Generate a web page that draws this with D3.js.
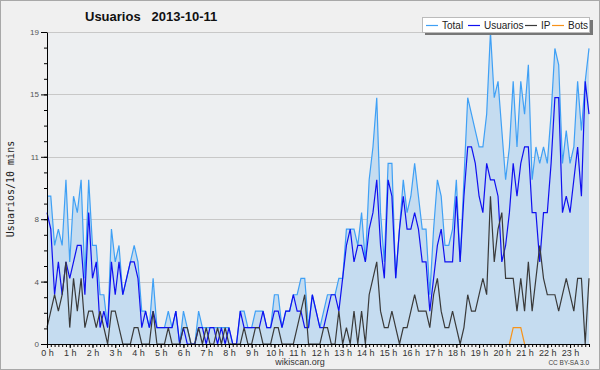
<!DOCTYPE html>
<html>
<head>
<meta charset="utf-8">
<script src="https://cdn.jsdelivr.net/npm/d3@7"></script>
<style>
  body { margin: 0; background: #f0f0f0; }
  svg { display: block; font-family: "Liberation Sans", Arial, sans-serif; }
</style>
</head>
<body>
<svg id="chart"></svg>
<script>
// Dimensions
const width = 600;
const height = 370;
const margin = { top: 32, right: 11, bottom: 26, left: 47 };

// Data: one value per 10 minutes (144 slots)
const total = [
    9, 9, 6, 7, 6, 10, 5, 9, 8, 10, 4, 10, 6, 6, 3, 3, 1, 7, 5, 6, 3, 4, 5, 6,
    5, 2, 2, 1, 4, 1, 1, 1, 2, 1, 2, 0, 2, 1, 0, 0, 2, 1, 1, 1, 1, 1, 1, 1,
    1, 0, 0, 2, 2, 1, 1, 2, 2, 2, 1, 1, 3, 3, 1, 2, 2, 3, 3, 4, 4, 1, 3, 2,
    1, 2, 3, 3, 3, 4, 4, 7, 7, 7, 6, 8, 5, 10, 12, 15, 8, 5, 11, 11, 4, 7, 10, 8,
    9, 11, 9, 7, 7, 3, 7, 10, 9, 6, 6, 7, 10, 5, 10, 15, 14, 13, 12, 12, 14, 19, 15, 16,
    13, 10, 12, 16, 12, 16, 14, 17, 10, 12, 11, 12, 11, 14, 18, 17, 11, 13, 11, 12, 16, 13, 16, 18
];
const usuarios = [
    8, 7, 3, 5, 3, 5, 4, 5, 6, 6, 3, 8, 4, 5, 1, 2, 1, 5, 3, 5, 3, 4, 5, 5,
    4, 1, 2, 1, 2, 1, 1, 1, 1, 1, 2, 0, 1, 0, 0, 0, 1, 1, 0, 1, 1, 0, 1, 0,
    1, 0, 0, 2, 1, 1, 1, 1, 1, 2, 1, 1, 2, 2, 1, 2, 2, 3, 2, 2, 1, 1, 3, 2,
    1, 1, 2, 3, 3, 2, 4, 6, 7, 5, 6, 6, 5, 7, 8, 10, 6, 4, 10, 9, 4, 7, 9, 7,
    7, 8, 7, 5, 5, 2, 4, 6, 7, 5, 5, 5, 9, 5, 9, 12, 12, 11, 9, 8, 11, 10, 10, 9,
    5, 6, 8, 11, 9, 11, 12, 12, 8, 8, 5, 8, 8, 11, 15, 15, 8, 9, 8, 10, 12, 9, 16, 14
];
const ip = [
    1, 2, 3, 2, 3, 5, 1, 4, 2, 4, 1, 2, 2, 1, 2, 1, 0, 2, 2, 1, 0, 0, 0, 1,
    1, 0, 0, 0, 2, 0, 0, 0, 1, 0, 0, 0, 1, 1, 0, 0, 1, 0, 1, 0, 0, 1, 0, 1,
    0, 0, 0, 0, 1, 0, 0, 1, 1, 0, 0, 0, 1, 1, 0, 0, 0, 0, 1, 2, 3, 0, 0, 0,
    0, 1, 1, 0, 0, 2, 0, 1, 0, 2, 0, 2, 0, 3, 4, 5, 2, 1, 1, 2, 1, 0, 1, 1,
    2, 3, 2, 2, 2, 1, 3, 4, 2, 1, 1, 2, 1, 0, 1, 3, 2, 2, 3, 4, 3, 9, 5, 7,
    8, 4, 4, 4, 2, 4, 2, 5, 2, 4, 6, 4, 3, 3, 3, 2, 3, 4, 3, 2, 4, 4, 0, 4
];
const bots = [
    0, 0, 0, 0, 0, 0, 0, 0, 0, 0, 0, 0, 0, 0, 0, 0, 0, 0, 0, 0, 0, 0, 0, 0,
    0, 0, 0, 0, 0, 0, 0, 0, 0, 0, 0, 0, 0, 0, 0, 0, 0, 0, 0, 0, 0, 0, 0, 0,
    0, 0, 0, 0, 0, 0, 0, 0, 0, 0, 0, 0, 0, 0, 0, 0, 0, 0, 0, 0, 0, 0, 0, 0,
    0, 0, 0, 0, 0, 0, 0, 0, 0, 0, 0, 0, 0, 0, 0, 0, 0, 0, 0, 0, 0, 0, 0, 0,
    0, 0, 0, 0, 0, 0, 0, 0, 0, 0, 0, 0, 0, 0, 0, 0, 0, 0, 0, 0, 0, 0, 0, 0,
    0, 0, 0, 1, 1, 1, 0, 0, 0, 0, 0, 0, 0, 0, 0, 0, 0, 0, 0, 0, 0, 0, 0, 0
];

const yMax = 19;
const yTickLabels = ["0", "4", "8", "11", "15", "19"];
const hourLabels = d3.range(24).map(h => h + " h");

const seriesNames = ["Total", "Usuarios", "IP", "Bots"];
const seriesColors = ["#3fa0f5", "#1010f0", "#3a3a3a", "#f7931a"];

const svg = d3.select("#chart")
    .attr("width", width)
    .attr("height", height);

// background + frame
svg.append("rect")
    .attr("x", 0.5).attr("y", 0.5)
    .attr("width", width - 1).attr("height", height - 1)
    .attr("fill", "#f0f0f0")
    .attr("stroke", "#a8a8a8");

const x = d3.scaleLinear()
    .domain([0, total.length - 1])
    .range([margin.left, width - margin.right]);

const y = d3.scaleLinear()
    .domain([0, yMax])
    .range([height - margin.bottom, margin.top]);

svg.append("rect")
    .attr("x", margin.left)
    .attr("y", margin.top)
    .attr("width", width - margin.right - margin.left)
    .attr("height", height - margin.bottom - margin.top)
    .attr("fill", "#edeff1");

// grid
const majorValues = yTickLabels.map((d, i) => yMax * i / (yTickLabels.length - 1));
svg.append("g")
    .selectAll("line")
    .data(majorValues)
    .join("line")
    .attr("x1", margin.left)
    .attr("x2", width - margin.right)
    .attr("y1", d => Math.round(y(d)) + 0.5)
    .attr("y2", d => Math.round(y(d)) + 0.5)
    .attr("stroke", "#c8c8c8");

// area under total
const area = d3.area()
    .x((d, i) => x(i))
    .y0(y(0))
    .y1(d => y(d));

svg.append("path")
    .datum(total)
    .attr("fill", "#c5dcf0")
    .attr("d", area);

const line = d3.line()
    .x((d, i) => x(i))
    .y(d => y(d));

[total, usuarios, ip].forEach((s, k) => {
    svg.append("path")
        .datum(s)
        .attr("fill", "none")
        .attr("stroke", seriesColors[k])
        .attr("stroke-width", 1.2)
        .attr("d", line);
});

// bots: only draw the part that's non zero (with neighbours)
const botsDefined = bots.map((d, i) => d > 0 || bots[i - 1] > 0 || bots[i + 1] > 0);
svg.append("path")
    .datum(bots)
    .attr("fill", "none")
    .attr("stroke", seriesColors[3])
    .attr("stroke-width", 1.2)
    .attr("d", line.defined((d, i) => botsDefined[i]));

// Axes
const minorValues = d3.range(0, 21).map(k => yMax * k / 20);

svg.append("g")
    .attr("transform", `translate(${margin.left},0)`)
    .call(d3.axisLeft(y).tickValues(minorValues).tickSize(3).tickFormat(""))
    .call(g => g.select(".domain").remove());

svg.append("g")
    .attr("transform", `translate(${margin.left},0)`)
    .call(d3.axisLeft(y).tickValues(majorValues).tickSize(6).tickSizeOuter(0)
        .tickFormat((d, i) => yTickLabels[i]))
    .call(g => g.selectAll("text").attr("fill", "#555").style("font-size", "8px").attr("dx", 1))
    .call(g => g.selectAll("line, path").attr("stroke", "#000"));

svg.append("g")
    .attr("transform", `translate(0,${height - margin.bottom})`)
    .call(d3.axisBottom(x).tickValues(d3.range(0, total.length)).tickSize(3).tickFormat(""))
    .call(g => g.select(".domain").remove());

svg.append("g")
    .attr("transform", `translate(0,${height - margin.bottom})`)
    .call(d3.axisBottom(x).tickValues(d3.range(0, 24).map(h => h * 6)).tickSize(4).tickSizeOuter(0)
        .tickFormat((d, i) => hourLabels[i]))
    .call(g => g.selectAll("text").attr("fill", "#333").style("font-size", "9px").attr("dy", "0.55em"))
    .call(g => g.selectAll("line, path").attr("stroke", "#000"));

// Title
svg.append("text")
    .attr("x", 85)
    .attr("y", 21)
    .style("font-size", "13px")
    .style("font-weight", "bold")
    .style("white-space", "pre")
    .attr("fill", "#111")
    .text("Usuarios   2013-10-11");

// Y label
svg.append("text")
    .attr("transform", "rotate(-90)")
    .attr("x", -189)
    .attr("y", 14)
    .attr("text-anchor", "middle")
    .style("font-family", "'DejaVu Sans Mono', monospace")
    .style("font-size", "10px")
    .attr("fill", "#222")
    .text("Usuarios/10 mins");

// footer
svg.append("text")
    .attr("x", 300)
    .attr("y", 365)
    .attr("text-anchor", "middle")
    .style("font-size", "9px")
    .attr("fill", "#333")
    .text("wikiscan.org");

svg.append("text")
    .attr("x", 589)
    .attr("y", 365)
    .attr("text-anchor", "end")
    .style("font-size", "6.5px")
    .attr("fill", "#444")
    .text("CC BY-SA 3.0");

// Legend
const legend = svg.append("g");
legend.append("rect")
    .attr("x", 425).attr("y", 20)
    .attr("width", 168).attr("height", 15)
    .attr("fill", "#777");
legend.append("rect")
    .attr("x", 422.5).attr("y", 17.5)
    .attr("width", 167).attr("height", 15)
    .attr("fill", "#fff")
    .attr("stroke", "#bbb");

const legendX = [426, 468, 525, 552];
seriesNames.forEach((name, k) => {
    legend.append("line")
        .attr("x1", legendX[k]).attr("x2", legendX[k] + 12)
        .attr("y1", 25.5).attr("y2", 25.5)
        .attr("stroke", seriesColors[k])
        .attr("stroke-width", 1.2);
    legend.append("text")
        .attr("x", legendX[k] + 16)
        .attr("y", 29)
        .style("font-size", "10px")
        .attr("fill", "#222")
        .text(name);
});
</script>
</body>
</html>
